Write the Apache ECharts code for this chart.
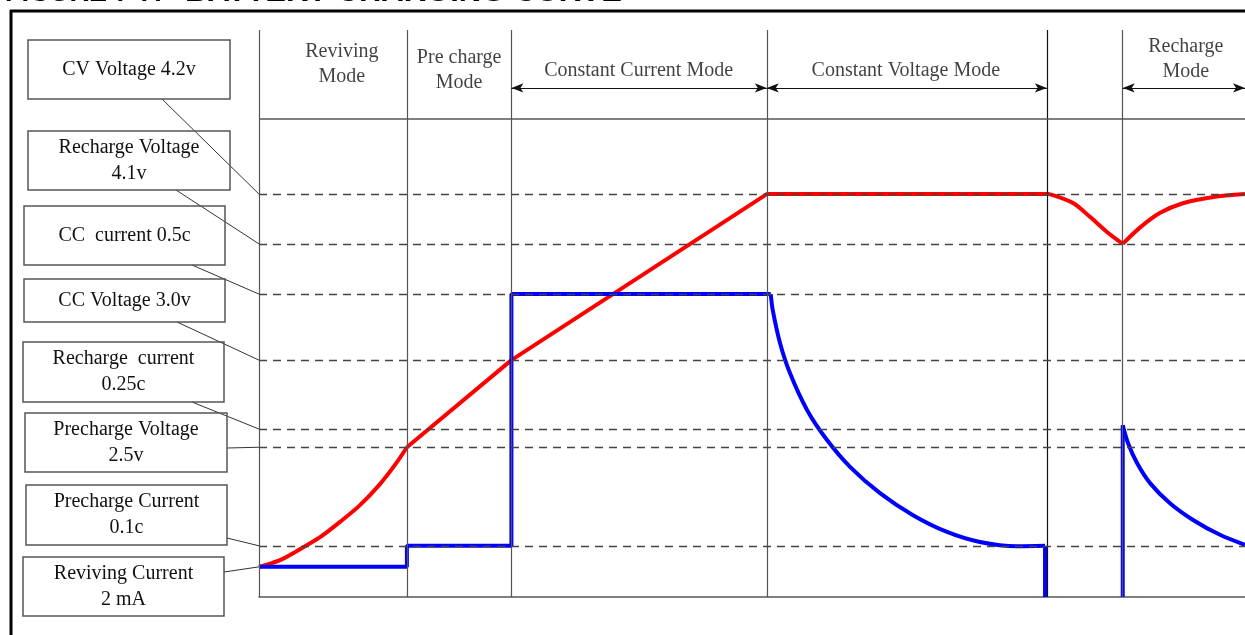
<!DOCTYPE html>
<html><head><meta charset="utf-8">
<script src="https://cdn.jsdelivr.net/npm/echarts@6/dist/echarts.min.js"></script>
<style>html,body{margin:0;padding:0;background:#fff;overflow:hidden}#c{width:1245px;height:635px}</style>
</head><body><div id="c"></div>
<script>
// ---- data (time in arbitrary units 0..100, level in normalized units) ----
const modeBoundaries = [0, 15.0, 25.6, 51.5, 79.9, 87.6];
const modeNames = ['Reviving\nMode', 'Pre charge\nMode', 'Constant Current Mode', 'Constant Voltage Mode', 'Recharge\nMode'];
const modeLabelX = [8.4, 20.3, 38.5, 65.6, 94.0];
const modeLabelY = [111.4, 110.0, 110.0, 110.0, 112.4];
const modeArrowFrom = [25.6, 51.5, 87.6];
const modeArrowTo = [51.5, 79.9, 100];
const headerLevel = 100;
const arrowLevel = 106.4;

const levelNames = ['CV Voltage 4.2v', 'Recharge Voltage\n4.1v', 'CC  current 0.5c', 'CC Voltage 3.0v',
  'Recharge  current\n0.25c', 'Precharge Voltage\n2.5v', 'Precharge Current\n0.1c', 'Reviving Current\n2 mA'];
const levelValues = [84.2, 73.8, 63.3, 49.5, 35.1, 31.3, 10.7, 6.3];
const levelDashed = [true, true, true, true, true, true, true, false];

// battery voltage, by segment
const voltageRevivingX = [0, 2.13, 4.16, 6.19, 8.22, 10.24, 12.27, 13.79, 15.0];
const voltageRevivingY = [6.3, 7.7, 10.0, 12.5, 15.7, 19.2, 23.6, 27.6, 31.3];
const voltageChargeX = [15.0, 25.6, 51.5, 80.2];
const voltageChargeY = [31.3, 49.5, 84.2, 84.2];
const voltageDropX = [80.2, 82.6, 84.3, 86.0, 87.6];
const voltageDropY = [84.2, 82.3, 79.4, 76.3, 73.8];
const voltageRecoverX = [87.6, 89.4, 91.4, 93.7, 96.8, 100];
const voltageRecoverY = [73.8, 77.3, 80.3, 82.3, 83.6, 84.2];

// charge current, by segment
const currentStepX = [0, 15.0, 15.0, 25.6, 25.6, 51.9];
const currentStepY = [6.3, 6.3, 10.7, 10.7, 63.3, 63.3];
const currentTaperX = [51.9, 52.1, 52.84, 53.85, 55.58, 57.61, 59.94, 62.98, 66.33, 69.78, 73.12, 76.88, 79.72];
const currentTaperY = [63.3, 60.0, 53.1, 46.8, 39.1, 32.8, 27.2, 21.7, 17.1, 13.6, 11.5, 10.6, 10.7];
const currentCutoffX = [79.72, 79.72];
const currentCutoffY = [10.7, 0];
const rechargeRiseX = [87.6, 87.6];
const rechargeRiseY = [0, 35.9];
const rechargeTaperX = [87.6, 88.13, 89.05, 90.37, 92.39, 94.73, 97.46, 100];
const rechargeTaperY = [35.9, 32.2, 28.0, 23.8, 19.6, 16.1, 13.0, 10.9];

const titleLeft = 'FIGURE 7-7:';
const titleRight = 'BATTERY CHARGING CURVE';

// ---- layout / styles ----
const boxRects = [[28,40,202,59],[28,131,202,59],[24,206,201,59],[24,279,201,43],[23,342,201,60],[25,413,202,59],[26,485,201,60],[23,557,201,59]];
const boxAnchors = [[162,99],[176,190],[192,265],[177,322],[192,402],[227,448],[227,538],[224,572]];
const serif = '"Liberation Serif","DejaVu Serif",serif';
const RED = '#ff0000', BLUE = '#0000ff';

const zip = (xs, ys) => xs.map((x, i) => [x, ys[i]]);
const seg = (name, xs, ys, color, curved, z) => ({
  name, type: 'line', showSymbol: false, symbol: 'none', silent: true,
  smooth: curved ? 0.3 : false,
  lineStyle: {color, width: 4}, z,
  data: zip(xs, ys)
});

const chart = echarts.init(document.getElementById('c'), null, {renderer: 'canvas'});

const option = {
  animation: false,
  backgroundColor: '#fff',
  grid: {left: 259, right: 0, top: 30, bottom: 38},
  xAxis: {type: 'value', min: 0, max: 100,
    axisLine: {show: true, lineStyle: {color: '#555', width: 1.5}},
    axisTick: {show: false}, axisLabel: {show: false}, splitLine: {show: false}},
  yAxis: {type: 'value', min: 0, max: 118.5, show: false, splitLine: {show: false}},
  series: [
    {
      name: 'frame', type: 'line', data: [], silent: true,
      markLine: {
        silent: true, symbol: ['none', 'none'], label: {show: false},
        lineStyle: {color: '#555', width: 1.2, type: 'solid'},
        data: modeBoundaries.map((b, i) => (i === 4 ? {xAxis: b, lineStyle: {color: '#111', width: 1.2}} : {xAxis: b}))
          .concat([{yAxis: headerLevel, lineStyle: {color: '#555', width: 1.5}}])
      }
    },
    {
      name: 'levels', type: 'line', data: [], silent: true,
      markLine: {
        silent: true, symbol: ['none', 'none'], label: {show: false},
        lineStyle: {color: '#444', width: 1.3, type: [8, 6]},
        data: levelValues.filter((v, i) => levelDashed[i]).map(v => ({yAxis: v}))
      }
    },
    {
      name: 'arrows', type: 'line', data: [], silent: true,
      markLine: {
        silent: true, symbol: ['arrow', 'arrow'], symbolSize: [7, 12], label: {show: false},
        lineStyle: {color: '#111', width: 1.2, type: 'solid'},
        itemStyle: {color: '#111'},
        data: modeArrowFrom.map((a, i) => [{coord: [a, arrowLevel]}, {coord: [modeArrowTo[i], arrowLevel]}])
      }
    },
    {
      name: 'modes', type: 'scatter', symbolSize: 1, silent: true,
      itemStyle: {color: 'rgba(0,0,0,0)'},
      label: {show: true, position: 'inside', formatter: p => p.name, fontFamily: serif, fontSize: 20,
        color: '#111', lineHeight: 25, align: 'center', verticalAlign: 'middle'},
      data: modeNames.map((n, i) => ({name: n, value: [modeLabelX[i], modeLabelY[i]]}))
    },
    seg('Voltage reviving', voltageRevivingX, voltageRevivingY, RED, true, 3),
    seg('Voltage charge', voltageChargeX, voltageChargeY, RED, false, 3),
    seg('Voltage drop', voltageDropX, voltageDropY, RED, true, 3),
    seg('Voltage recover', voltageRecoverX, voltageRecoverY, RED, true, 3),
    seg('Current steps', currentStepX, currentStepY, BLUE, false, 4),
    seg('Current taper', currentTaperX, currentTaperY, BLUE, true, 4),
    seg('Current cutoff', currentCutoffX, currentCutoffY, BLUE, false, 4),
    seg('Recharge rise', rechargeRiseX, rechargeRiseY, BLUE, false, 4),
    seg('Recharge taper', rechargeTaperX, rechargeTaperY, BLUE, true, 4)
  ]
};
chart.setOption(option);

// ---- annotation boxes, leader lines, frame, title ----
const graphics = [];
graphics.push({type: 'line', shape: {x1: 10, y1: 11, x2: 1245, y2: 11}, style: {stroke: '#000', lineWidth: 3}});
graphics.push({type: 'line', shape: {x1: 11, y1: 10, x2: 11, y2: 635}, style: {stroke: '#000', lineWidth: 3}});
graphics.push({type: 'text', x: 5, y: -6, style: {text: titleLeft, font: 'bold 27px "Liberation Sans", Arial, sans-serif', fill: '#000', verticalAlign: 'middle', textVerticalAlign: 'middle'}});
graphics.push({type: 'text', x: 185, y: -7.7, style: {text: titleRight, font: 'bold 31px "Liberation Sans", Arial, sans-serif', fill: '#000', verticalAlign: 'middle', textVerticalAlign: 'middle'}});

levelNames.forEach((name, i) => {
  const r = boxRects[i];
  const end = chart.convertToPixel({xAxisIndex: 0, yAxisIndex: 0}, [0, levelValues[i]]);
  graphics.push({type: 'line', z: 1, shape: {x1: boxAnchors[i][0], y1: boxAnchors[i][1], x2: end[0], y2: end[1]},
    style: {stroke: '#333', lineWidth: 1}});
  graphics.push({type: 'rect', z: 2, shape: {x: r[0], y: r[1], width: r[2], height: r[3]},
    style: {fill: 'rgba(255,255,255,0)', stroke: '#555', lineWidth: 1.5}});
  graphics.push({type: 'text', z: 3, x: r[0] + r[2] / 2, y: r[1] + r[3] / 2,
    style: {text: name, font: '20px ' + serif, fill: '#111', lineHeight: 26,
      align: 'center', verticalAlign: 'middle', textAlign: 'center', textVerticalAlign: 'middle'}});
});
chart.setOption({graphic: graphics});
</script>
</body></html>
